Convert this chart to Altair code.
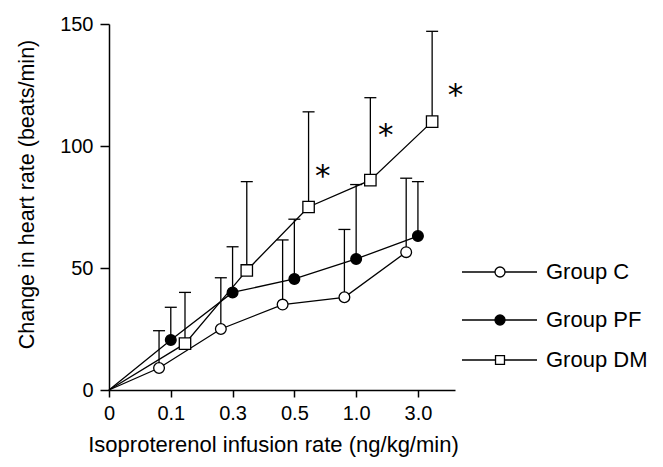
import altair as alt
import pandas as pd

# ---- data ----
doses = ["0", "0.1", "0.3", "0.5", "1.0", "3.0"]
groups = ["Group C", "Group PF", "Group DM"]
c_mean = [0, 9, 25, 35, 38, 56.5]
c_err = [0, 15.3, 21, 26.5, 27.8, 30.3]
pf_mean = [0, 20.5, 40, 45.5, 53.7, 63.1]
pf_err = [0, 13.4, 18.7, 24.5, 30.5, 22.3]
dm_mean = [0, 19, 49, 75, 86, 110]
dm_err = [0, 21, 36.4, 39, 33.8, 37]
star_x = [3.46, 4.48, 5.61]
star_y = [89.8, 106.6, 123]

# ---- layout / style ----
offsets = {"Group C": -0.19, "Group PF": 0.0, "Group DM": 0.23}
FONT = "Liberation Sans"

rows = []
for g, means, errs in [("Group C", c_mean, c_err), ("Group PF", pf_mean, pf_err), ("Group DM", dm_mean, dm_err)]:
    for i, (m, e) in enumerate(zip(means, errs)):
        rows.append({"group": g, "dose": doses[i], "idx": i,
                     "x": 0.0 if i == 0 else i + offsets[g],
                     "mean": m, "top": m + e})
df = pd.DataFrame(rows)
pts = df[df.idx > 0]
stars = pd.DataFrame({"x": star_x, "mean": star_y, "t": ["*"] * 3})

xscale = alt.Scale(domain=[0, 5.6], nice=False, zero=False)
yscale = alt.Scale(domain=[0, 150], nice=False)

xaxis = alt.Axis(values=[0, 1, 2, 3, 4, 5], grid=False, labelFlush=False,
                 labelExpr="['0','0.1','0.3','0.5','1.0','3.0'][datum.value]",
                 title="Isoproterenol infusion rate (ng/kg/min)",
                 titleX=164, titleY=61, titleAlign="center", titleBaseline="alphabetic",
                 tickSize=7, labelPadding=6, labelFontSize=20, titleFontSize=22,
                 titleFontWeight="normal")
yaxis = alt.Axis(values=[0, 50, 100, 150], grid=False, labelFlush=False,
                 title="Change in heart rate (beats/min)",
                 titleX=-76, titleY=170, titleAngle=270, titleAlign="center",
                 titleBaseline="alphabetic", tickSize=9, labelPadding=7,
                 labelFontSize=20, titleFontSize=21.5, titleFontWeight="normal")

X = alt.X("x:Q", scale=xscale, axis=xaxis)
Y = alt.Y("mean:Q", scale=yscale, axis=yaxis)

base = alt.Chart(df)

lines = base.mark_line(color="black", strokeWidth=1.3).encode(
    x=X, y=Y, detail="group:N", order="idx:Q")
err = alt.Chart(pts).mark_rule(color="black", strokeWidth=1.3).encode(
    x=X, y=Y, y2="top:Q")
caps = alt.Chart(pts).mark_rule(color="black", strokeWidth=1.3, xOffset=-6, x2Offset=6).encode(
    x=X, x2="x:Q", y=alt.Y("top:Q", scale=yscale, axis=yaxis))


def markers(g, shape, size, fill):
    return alt.Chart(pts[pts.group == g]).mark_point(
        shape=shape, size=size, filled=True, fill=fill, stroke="black", strokeWidth=1.3, opacity=1
    ).encode(x=X, y=Y)


circ_c = markers("Group C", "circle", 115, "white")
circ_pf = markers("Group PF", "circle", 115, "black")
sq_dm = markers("Group DM", "square", 130, "white")

star_t = alt.Chart(stars).mark_text(font="DejaVu Sans", fontSize=31, color="black",
                                    baseline="middle", align="center", dy=6).encode(
    x=X, y=Y, text="t:N")

# ---- manual legend (line + marker + label) ----
legend_y = [248, 296, 336]
marker_style = [
    dict(shape="circle", size=100, fill="white"),
    dict(shape="circle", size=100, fill="black"),
    dict(shape="square", size=80, fill="white"),
]
leg_df = pd.DataFrame({"group": groups})
legend_layers = []
for i, g in enumerate(groups):
    d = alt.Chart(leg_df[leg_df.group == g])
    legend_layers.append(d.mark_rule(color="black", strokeWidth=1.3).encode(
        x=alt.value(353), x2=alt.value(428), y=alt.value(legend_y[i])))
    ms = marker_style[i]
    legend_layers.append(d.mark_point(shape=ms["shape"], size=ms["size"], filled=True, fill=ms["fill"],
                                      stroke="black", strokeWidth=1.3, opacity=1).encode(
        x=alt.value(391), y=alt.value(legend_y[i])))
    legend_layers.append(d.mark_text(font=FONT, fontSize=22, align="left", baseline="middle",
                                     color="black").encode(
        x=alt.value(437), y=alt.value(legend_y[i]), text="group:N"))

chart = alt.layer(lines, err, caps, circ_c, circ_pf, sq_dm, star_t, *legend_layers).properties(
    width=346, height=366,
    background="white",
    autosize=alt.AutoSizeParams(type="none"),
    padding={"left": 101, "top": 16, "right": 200, "bottom": 67},
).configure_view(stroke=None).configure_axis(
    grid=False, domainColor="black", domainWidth=1.5, tickColor="black", tickWidth=1.5,
    labelColor="black", titleColor="black", labelFont=FONT, titleFont=FONT,
)

chart.save("out.html", embed_options={"renderer": "svg", "actions": False})
